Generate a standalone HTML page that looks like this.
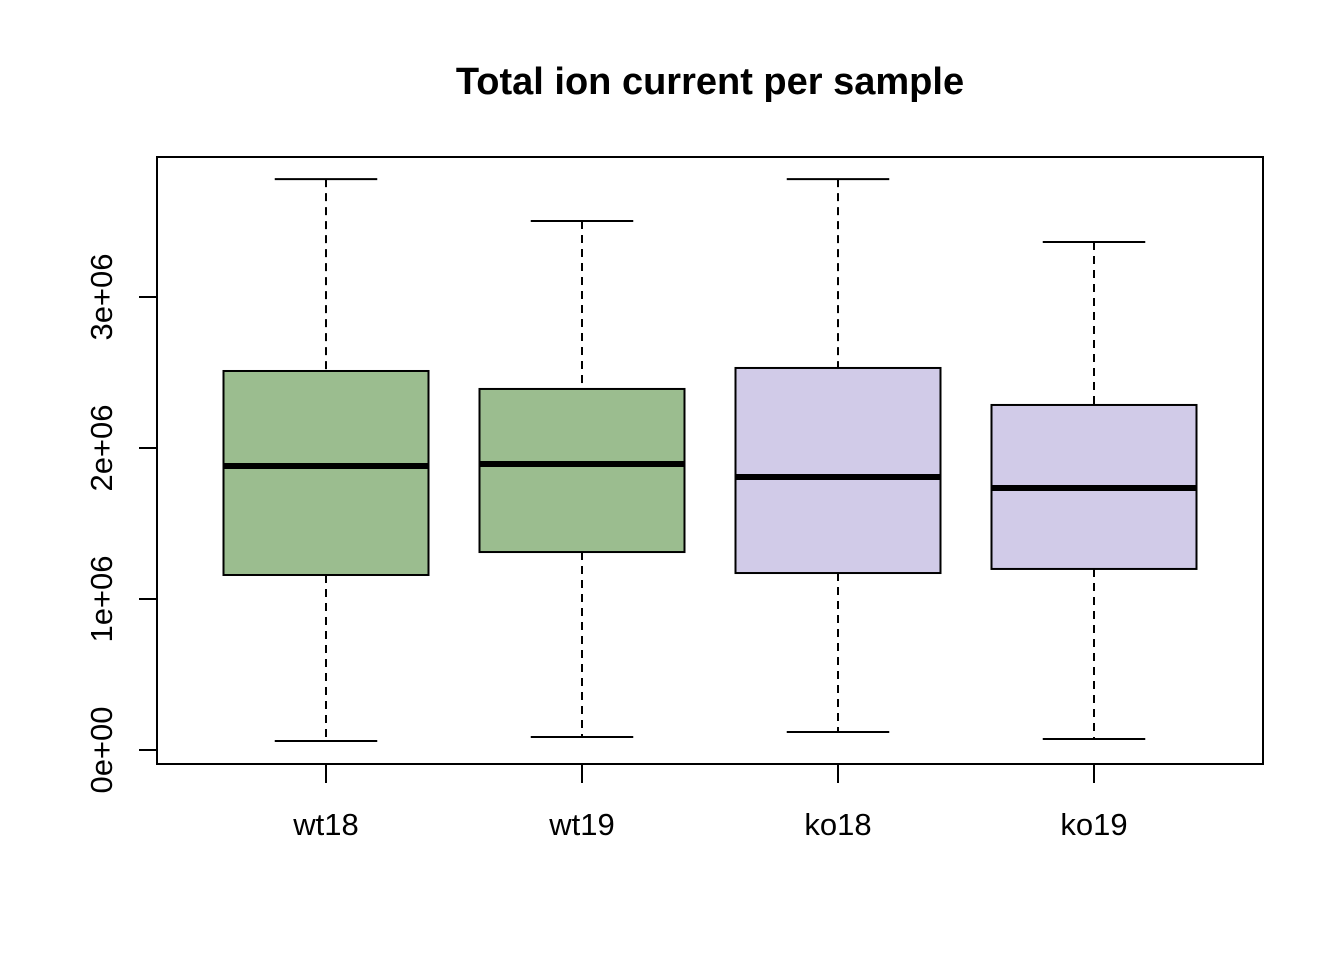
<!DOCTYPE html>
<html><head><meta charset="utf-8"><style>body{margin:0;background:#fff}svg{display:block}</style></head>
<body>
<svg id="chart" width="1344" height="960" xmlns="http://www.w3.org/2000/svg" font-family="Liberation Sans, Arial, sans-serif">
<text x="710" y="94" text-anchor="middle" font-size="38" font-weight="bold">Total ion current per sample</text>
<rect x="157" y="157" width="1106" height="607" fill="none" stroke="#000" stroke-width="2"/>
<g id="marks"></g>
</svg>
<script>
const categories = ["wt18","wt19","ko18","ko19"];
const mins = [0.06e6, 0.086e6, 0.119e6, 0.073e6];
const q1s = [1.159e6, 1.311e6, 1.172e6, 1.199e6];
const medians = [1.881e6, 1.894e6, 1.808e6, 1.735e6];
const q3s = [2.51e6, 2.391e6, 2.53e6, 2.285e6];
const maxs = [3.781e6, 3.503e6, 3.781e6, 3.364e6];
const fills = ["#9BBD8F","#9BBD8F","#D1CBE8","#D1CBE8"];
const yTicks = [0, 1e6, 2e6, 3e6];
const yTickLabels = ["0e+00","1e+06","2e+06","3e+06"];

const NS = "http://www.w3.org/2000/svg";
const g = document.getElementById("marks");
const y = v => 750 - v * 151 / 1e6;
const x = i => 326 + i * 256;
const hw = 102.5;
function mk(tag, attrs, parent) {
  const e = document.createElementNS(NS, tag);
  for (const k in attrs) e.setAttribute(k, attrs[k]);
  (parent || g).appendChild(e);
  return e;
}
yTicks.forEach((t, i) => {
  const l = mk("line", {x1: 139, x2: 157, y1: y(t), y2: y(t), stroke: "#000", "stroke-width": 2});
  
  
  const tx = mk("text", {x: 112, y: y(t), "font-size": 31, "text-anchor": "middle", transform: `rotate(-90 112 ${y(t)})`});
  tx.textContent = yTickLabels[i];
  
  
});
categories.forEach((c, i) => {
  const cx = x(i);
  const tk = mk("line", {x1: cx, x2: cx, y1: 764, y2: 783, stroke: "#000", "stroke-width": 2});
  
  
  const lb = mk("text", {x: cx, y: 835, "font-size": 31, "text-anchor": "middle"});
  lb.textContent = c;
  
  
  const w1 = mk("line", {x1: cx, x2: cx, y1: y(maxs[i]), y2: y(q3s[i]), stroke: "#000", "stroke-width": 2, "stroke-dasharray": "8 6"});
  
  
  const w2 = mk("line", {x1: cx, x2: cx, y1: y(q1s[i]), y2: y(mins[i]), stroke: "#000", "stroke-width": 2, "stroke-dasharray": "8 6"});
  
  
  const c1 = mk("line", {x1: cx - hw/2, x2: cx + hw/2, y1: y(maxs[i]), y2: y(maxs[i]), stroke: "#000", "stroke-width": 2});
  
  
  const c2 = mk("line", {x1: cx - hw/2, x2: cx + hw/2, y1: y(mins[i]), y2: y(mins[i]), stroke: "#000", "stroke-width": 2});
  
  
  const b = mk("rect", {x: cx - hw, y: y(q3s[i]), width: 2*hw, height: y(q1s[i]) - y(q3s[i]), fill: fills[i], stroke: "#000", "stroke-width": 2});
  
  
  const m = mk("line", {x1: cx - hw, x2: cx + hw, y1: y(medians[i]), y2: y(medians[i]), stroke: "#000", "stroke-width": 6});
  
  
});
</script>
</body></html>
